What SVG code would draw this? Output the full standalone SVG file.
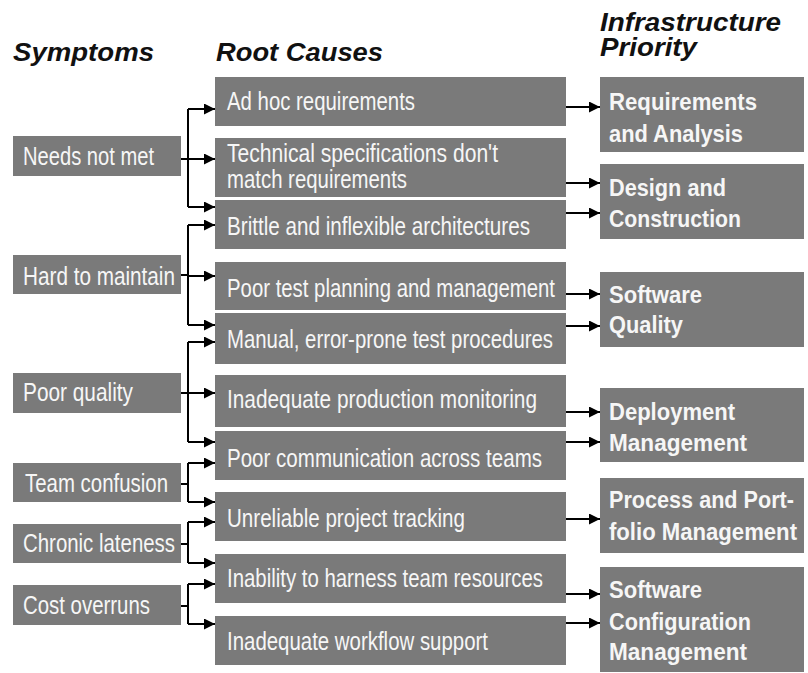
<svg xmlns="http://www.w3.org/2000/svg" width="808" height="673" viewBox="0 0 808 673">
<defs>
<marker id="ah" markerUnits="userSpaceOnUse" markerWidth="11" markerHeight="11" refX="11" refY="5.5" orient="auto">
<path d="M0,0 L11,5.5 L0,11 z" fill="#000"/>
</marker>
<style>
.box{fill:#7a7a7a;}
.t{font-family:"Liberation Sans",Arial,sans-serif;font-size:25px;fill:#f6f6f6;}
.b{font-family:"Liberation Sans",Arial,sans-serif;font-size:24px;font-weight:bold;fill:#f6f6f6;}
.h{font-family:"Liberation Sans",Arial,sans-serif;font-size:26px;font-weight:bold;font-style:italic;fill:#111;}
.c{fill:none;stroke:#000;stroke-width:2;}
.a{fill:none;stroke:#000;stroke-width:2;marker-end:url(#ah);}
</style>
</defs>
<rect width="808" height="673" fill="#fff"/>
<g id="headers">
<text class="h" x="13" y="61" textLength="141" lengthAdjust="spacingAndGlyphs">Symptoms</text>
<text class="h" x="216" y="61" textLength="167" lengthAdjust="spacingAndGlyphs">Root Causes</text>
<text class="h" x="600" y="31" textLength="181" lengthAdjust="spacingAndGlyphs">Infrastructure</text>
<text class="h" x="600" y="56" textLength="97" lengthAdjust="spacingAndGlyphs">Priority</text>
</g>
<g id="s1"><rect class="box" x="13" y="136" width="168" height="40"/><text class="t" x="23" y="165" textLength="131" lengthAdjust="spacingAndGlyphs">Needs not met</text></g>
<g id="s2"><rect class="box" x="13" y="255" width="168" height="39"/><text class="t" x="23" y="285" textLength="152" lengthAdjust="spacingAndGlyphs">Hard to maintain</text></g>
<g id="s3"><rect class="box" x="13" y="373" width="168" height="40"/><text class="t" x="23" y="401" textLength="110" lengthAdjust="spacingAndGlyphs">Poor quality</text></g>
<g id="s4"><rect class="box" x="13" y="463" width="168" height="39"/><text class="t" x="25" y="492" textLength="143" lengthAdjust="spacingAndGlyphs">Team confusion</text></g>
<g id="s5"><rect class="box" x="13" y="524" width="168" height="39"/><text class="t" x="23" y="552" textLength="152" lengthAdjust="spacingAndGlyphs">Chronic lateness</text></g>
<g id="s6"><rect class="box" x="13" y="585" width="168" height="40"/><text class="t" x="23" y="614" textLength="127" lengthAdjust="spacingAndGlyphs">Cost overruns</text></g>
<g id="r1"><rect class="box" x="215" y="77" width="351" height="49"/><text class="t" x="227" y="110" textLength="188" lengthAdjust="spacingAndGlyphs">Ad hoc requirements</text></g>
<g id="r2"><rect class="box" x="215" y="138" width="351" height="59"/><text class="t" x="227" y="162" textLength="271" lengthAdjust="spacingAndGlyphs">Technical specifications don't</text><text class="t" x="227" y="188" textLength="180" lengthAdjust="spacingAndGlyphs">match requirements</text></g>
<g id="r3"><rect class="box" x="215" y="200" width="351" height="49"/><text class="t" x="227" y="235" textLength="303" lengthAdjust="spacingAndGlyphs">Brittle and inflexible architectures</text></g>
<g id="r4"><rect class="box" x="215" y="262" width="351" height="48"/><text class="t" x="227" y="297" textLength="328" lengthAdjust="spacingAndGlyphs">Poor test planning and management</text></g>
<g id="r5"><rect class="box" x="215" y="313" width="351" height="51"/><text class="t" x="227" y="348" textLength="326" lengthAdjust="spacingAndGlyphs">Manual, error-prone test procedures</text></g>
<g id="r6"><rect class="box" x="215" y="375" width="351" height="52"/><text class="t" x="227" y="408" textLength="310" lengthAdjust="spacingAndGlyphs">Inadequate production monitoring</text></g>
<g id="r7"><rect class="box" x="215" y="431" width="351" height="49"/><text class="t" x="227" y="467" textLength="315" lengthAdjust="spacingAndGlyphs">Poor communication across teams</text></g>
<g id="r8"><rect class="box" x="215" y="492" width="351" height="49"/><text class="t" x="227" y="527" textLength="238" lengthAdjust="spacingAndGlyphs">Unreliable project tracking</text></g>
<g id="r9"><rect class="box" x="215" y="554" width="351" height="49"/><text class="t" x="227" y="587" textLength="316" lengthAdjust="spacingAndGlyphs">Inability to harness team resources</text></g>
<g id="r10"><rect class="box" x="215" y="616" width="351" height="49"/><text class="t" x="227" y="650" textLength="261" lengthAdjust="spacingAndGlyphs">Inadequate workflow support</text></g>
<g id="p1"><rect class="box" x="600" y="77" width="204" height="75"/><text class="b" x="609" y="110" textLength="148" lengthAdjust="spacingAndGlyphs">Requirements</text><text class="b" x="609" y="142" textLength="134" lengthAdjust="spacingAndGlyphs">and Analysis</text></g>
<g id="p2"><rect class="box" x="600" y="164" width="204" height="75"/><text class="b" x="609" y="196" textLength="117" lengthAdjust="spacingAndGlyphs">Design and</text><text class="b" x="609" y="227" textLength="132" lengthAdjust="spacingAndGlyphs">Construction</text></g>
<g id="p3"><rect class="box" x="600" y="272" width="204" height="75"/><text class="b" x="609" y="303" textLength="93" lengthAdjust="spacingAndGlyphs">Software</text><text class="b" x="609" y="333" textLength="74" lengthAdjust="spacingAndGlyphs">Quality</text></g>
<g id="p4"><rect class="box" x="600" y="388" width="204" height="74"/><text class="b" x="609" y="420" textLength="126" lengthAdjust="spacingAndGlyphs">Deployment</text><text class="b" x="609" y="451" textLength="138" lengthAdjust="spacingAndGlyphs">Management</text></g>
<g id="p5"><rect class="box" x="600" y="478" width="204" height="75"/><text class="b" x="609" y="508" textLength="185" lengthAdjust="spacingAndGlyphs">Process and Port-</text><text class="b" x="609" y="540" textLength="188" lengthAdjust="spacingAndGlyphs">folio Management</text></g>
<g id="p6"><rect class="box" x="600" y="567" width="204" height="105"/><text class="b" x="609" y="598" textLength="93" lengthAdjust="spacingAndGlyphs">Software</text><text class="b" x="609" y="630" textLength="142" lengthAdjust="spacingAndGlyphs">Configuration</text><text class="b" x="609" y="660" textLength="138" lengthAdjust="spacingAndGlyphs">Management</text></g>
<g id="connectors">
<path class="c" d="M181,159 H188 M188,109 V207"/>
<path class="a" d="M188,109 H215"/><path class="a" d="M188,159 H215"/><path class="a" d="M188,207 H215"/>
<path class="c" d="M181,275 H188 M188,225 V325"/>
<path class="a" d="M188,225 H215"/><path class="a" d="M188,276 H215"/><path class="a" d="M188,325 H215"/>
<path class="c" d="M181,393 H188 M188,342 V442"/>
<path class="a" d="M188,342 H215"/><path class="a" d="M188,393 H215"/><path class="a" d="M188,442 H215"/>
<path class="c" d="M181,484 H188 M188,463 V502"/>
<path class="a" d="M188,463 H215"/><path class="a" d="M188,502 H215"/>
<path class="c" d="M181,544 H188 M188,522 V563"/>
<path class="a" d="M188,522 H215"/><path class="a" d="M188,563 H215"/>
<path class="c" d="M181,606 H188 M188,584 V624"/>
<path class="a" d="M188,584 H215"/><path class="a" d="M188,624 H215"/>
<path class="a" d="M566,107 H600"/>
<path class="a" d="M566,183 H600"/>
<path class="a" d="M566,213 H600"/>
<path class="a" d="M566,294 H600"/>
<path class="a" d="M566,326 H600"/>
<path class="a" d="M566,412 H600"/>
<path class="a" d="M566,442 H600"/>
<path class="a" d="M566,519 H600"/>
<path class="a" d="M566,594 H600"/>
<path class="a" d="M566,623 H600"/>
</g>
</svg>
